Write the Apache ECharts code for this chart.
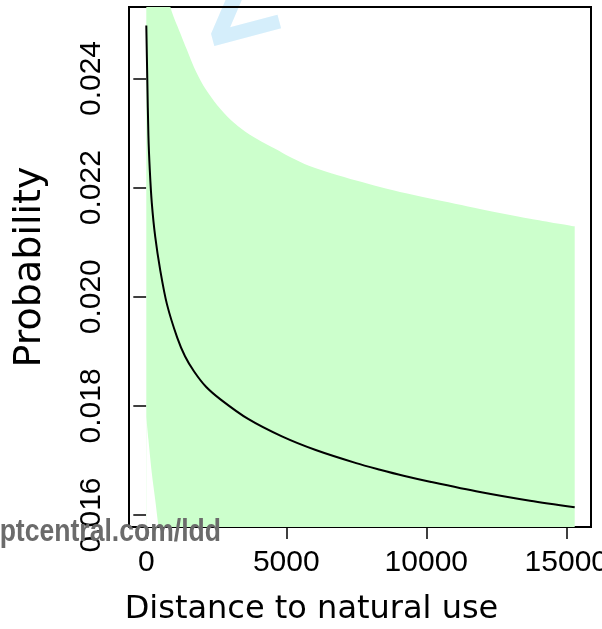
<!DOCTYPE html>
<html>
<head>
<meta charset="utf-8">
<script src="https://cdn.jsdelivr.net/npm/echarts@6/dist/echarts.min.js"></script>
<style>
  html, body { margin: 0; padding: 0; background: #ffffff; }
  #chart { width: 602px; height: 629px; }
</style>
</head>
<body>
<div id="chart"></div>
<script>
// Fitted probability curve
const fitX = [0, 36, 75, 125, 196, 318, 500, 739, 1104, 1382, 1707, 2132, 2671, 3636, 4843, 6050, 7496, 8346, 9186, 10132, 11918, 13704, 15300];
const fitY = [0.02497, 0.02397, 0.02296, 0.02232, 0.02172, 0.02110, 0.02048, 0.01986, 0.01925, 0.01891, 0.01863, 0.01835, 0.01811, 0.01776, 0.01744, 0.01719, 0.01695, 0.01683, 0.01672, 0.01661, 0.01642, 0.01626, 0.01614];

// Upper confidence limit
const upperX = [0, 300, 600, 861, 1221, 1454, 1707, 2025, 2429, 2882, 3396, 3954, 4600, 5168, 5807, 6632, 7496, 8346, 9061, 10132, 11918, 13704, 15300];
const upperY = [0.0300, 0.0272, 0.0261, 0.02531, 0.02482, 0.02452, 0.02420, 0.02388, 0.02358, 0.02331, 0.02308, 0.02289, 0.02271, 0.02255, 0.02240, 0.02226, 0.02213, 0.02201, 0.02192, 0.02180, 0.02161, 0.02143, 0.02129];

// Lower confidence limit
const lowerX = [0, 75, 196, 318, 436, 600, 1000, 15300];
const lowerY = [0.0178, 0.01739, 0.01677, 0.01628, 0.01578, 0.0151, 0.0142, 0.0135];

// Axis ticks
const xTicks = [0, 5000, 10000, 15000];
const yTicks = [0.016, 0.018, 0.020, 0.022, 0.024];

const chart = echarts.init(document.getElementById('chart'), null, { renderer: 'canvas' });

const tickFont = { fontFamily: 'Liberation Sans', fontSize: 30, color: '#000' };
const pairs = (xs, ys) => xs.map((x, i) => [x, ys[i]]);

chart.setOption({
  animation: false,
  backgroundColor: '#ffffff',
  grid: {
    left: 129, top: 7, right: 11, bottom: 102,
    outerBoundsMode: 'none',
    containLabel: false,
    show: true, borderColor: '#000', borderWidth: 2, backgroundColor: 'transparent'
  },
  xAxis: {
    type: 'value',
    min: -618, max: 15882,
    name: 'Distance to natural use',
    nameLocation: 'middle',
    nameGap: 67,
    nameTextStyle: { fontFamily: 'DejaVu Sans', fontSize: 32, color: '#000', padding: [0, 97, 0, 0] },
    axisLine: { show: false },
    splitLine: { show: false },
    axisTick: { show: true, length: 12, customValues: xTicks, lineStyle: { color: '#000', width: 1.5 } },
    axisLabel: Object.assign({ margin: 21, customValues: xTicks, formatter: v => String(v) }, tickFont)
  },
  yAxis: {
    type: 'value',
    min: 0.01578, max: 0.02531,
    name: 'Probability',
    nameLocation: 'middle',
    nameGap: 80,
    nameRotate: 90,
    nameTextStyle: { fontFamily: 'DejaVu Sans', fontSize: 38, color: '#000' },
    axisLine: { show: false },
    splitLine: { show: false },
    axisTick: { show: true, length: 13, customValues: yTicks, lineStyle: { color: '#000', width: 1.5 } },
    axisLabel: Object.assign({ margin: 22, rotate: 90, customValues: yTicks, formatter: v => v.toFixed(3) }, tickFont)
  },
  graphic: [
    {
      type: 'text', z: -10, x: 218, y: 74, rotation: 0.26,
      style: { text: 'Z', fontFamily: 'Liberation Sans', fontWeight: 'bold', fontSize: 125, fill: '#d5eefb', textAlign: 'left', textVerticalAlign: 'bottom' }
    },
    {
      type: 'text', z: 100, x: 221, y: 532, scaleX: 0.83,
      style: { text: 'ptcentral.com/ldd', fontFamily: 'Liberation Sans', fontWeight: 'bold', fontSize: 32, fill: '#6b6b6b', textAlign: 'right', textVerticalAlign: 'middle' }
    }
  ],
  series: [
    {
      // green band: area under the upper limit
      type: 'line',
      name: 'upper',
      data: pairs(upperX, upperY),
      showSymbol: false,
      smooth: 0.3,
      clip: true,
      silent: true,
      lineStyle: { width: 0 },
      areaStyle: { color: '#ccffcc', opacity: 1, origin: 'start' }
    },
    {
      // white area below the lower limit
      type: 'line',
      name: 'lower',
      data: pairs(lowerX, lowerY),
      showSymbol: false,
      smooth: 0.3,
      clip: true,
      silent: true,
      lineStyle: { width: 0 },
      areaStyle: { color: '#ffffff', opacity: 1, origin: 'start' }
    },
    {
      type: 'line',
      name: 'fit',
      data: pairs(fitX, fitY),
      showSymbol: false,
      smooth: 0.3,
      clip: true,
      lineStyle: { color: '#000', width: 2 }
    }
  ]
});
</script>
</body>
</html>
